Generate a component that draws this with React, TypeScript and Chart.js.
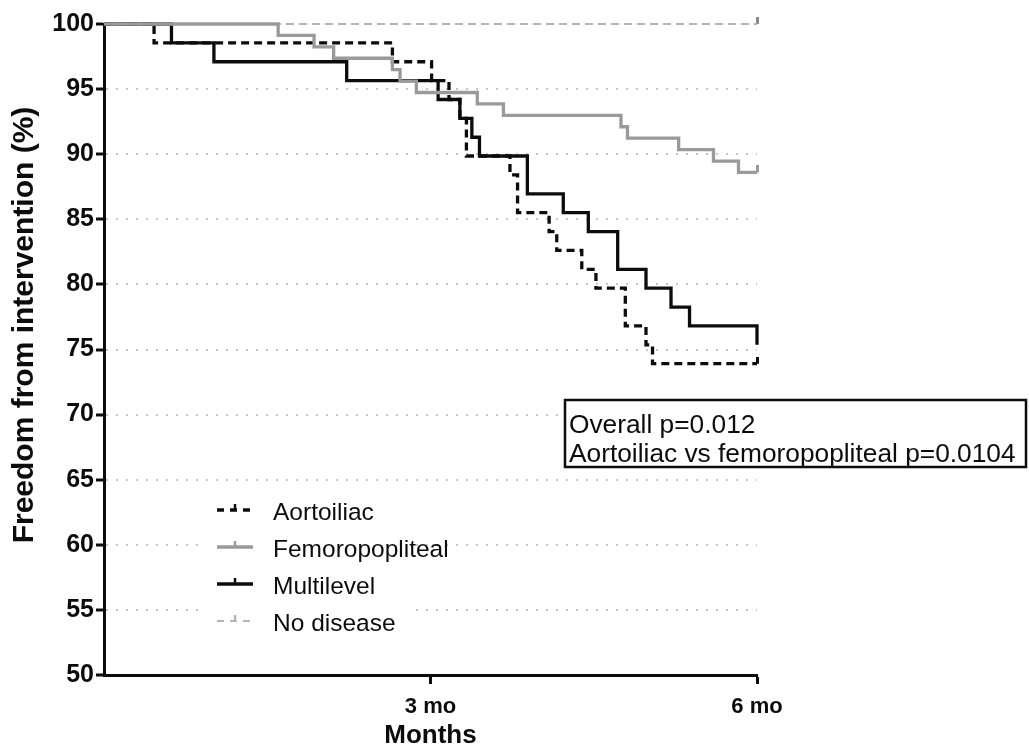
import React, { useEffect, useRef } from "react";
import { Chart, registerables } from "chart.js";

Chart.register(...registerables);

// ---- data ----
const seriesNames = ["Aortoiliac", "Femoropopliteal", "Multilevel", "No disease"];

const aortoTimes = [0, 0.46, 2.65, 3.01, 3.17, 3.27, 3.33, 3.73, 3.8, 4.09, 4.16, 4.39, 4.52, 4.79, 4.98, 5.04, 6];
const aortoValues = [100, 98.55, 97.1, 95.65, 94.2, 92.75, 89.86, 88.41, 85.51, 84.06, 82.61, 81.16, 79.71, 76.81, 75.36, 73.91, 73.91];

const femTimes = [0, 1.6, 1.93, 2.11, 2.65, 2.72, 2.87, 3.43, 3.67, 4.75, 4.81, 5.28, 5.6, 5.83, 6];
const femValues = [100, 99.12, 98.25, 97.37, 96.49, 95.61, 94.74, 93.86, 92.98, 92.11, 91.23, 90.35, 89.47, 88.6, 88.6];

const multiTimes = [0, 0.62, 1.01, 2.23, 3.07, 3.27, 3.38, 3.45, 3.89, 4.22, 4.45, 4.72, 4.98, 5.21, 5.38, 6, 6];
const multiValues = [100, 98.55, 97.1, 95.65, 94.2, 92.75, 91.3, 89.86, 86.96, 85.51, 84.06, 81.16, 79.71, 78.26, 76.81, 76.81, 75.36];

const noneTimes = [0, 6];
const noneValues = [100, 100];

// censoring times (tick marks)
const aortoCensor = [6];
const femCensor = [6];
const multiCensor: number[] = [];
const noneCensor = [6];

const yTickValues = [50, 55, 60, 65, 70, 75, 80, 85, 90, 95, 100];
const xTickValues = [3, 6];
const xTickLabels = ["3 mo", "6 mo"];

const xTitle = "Months";
const yTitle = "Freedom from intervention (%)";
const annotationLines = ["Overall p=0.012", "Aortoiliac vs femoropopliteal p=0.0104"];

// ---- styles ----
const BLACK = "#0c0c0c";
const GRAY = "#9a9a9a";
const LIGHT = "#b4b4b4";
const FONT = "'Liberation Sans', Arial, Helvetica, sans-serif";

function stepValue(times: number[], values: number[], t: number) {
  let v = values[0];
  for (let i = 0; i < times.length; i++) if (times[i] <= t) v = values[i];
  return v;
}

function makeTick(color: string) {
  const c = document.createElement("canvas");
  c.width = 3;
  c.height = 14;
  const g = c.getContext("2d")!;
  g.fillStyle = color;
  g.fillRect(0, 0, 3, 7);
  return c;
}

export default function App() {
  const ref = useRef<HTMLCanvasElement | null>(null);

  useEffect(() => {
    if (!ref.current) return;
    const series = [
      { name: seriesNames[0], times: aortoTimes, values: aortoValues, censor: aortoCensor, color: BLACK, width: 3.3, dash: [8, 5] },
      { name: seriesNames[1], times: femTimes, values: femValues, censor: femCensor, color: GRAY, width: 3.3, dash: [] as number[] },
      { name: seriesNames[2], times: multiTimes, values: multiValues, censor: multiCensor, color: BLACK, width: 3.3, dash: [] as number[] },
      { name: seriesNames[3], times: noneTimes, values: noneValues, censor: noneCensor, color: LIGHT, width: 2.2, dash: [8, 5] },
    ];
    const drawOrder = [2, 0, 1, 3];

    const datasets: any[] = [];
    series.forEach((s, i) => {
      datasets.push({
        label: s.name,
        data: s.times.map((t, k) => ({ x: t, y: s.values[k] })),
        stepped: "before",
        borderColor: s.color,
        borderWidth: s.width,
        borderDash: s.dash,
        pointRadius: 0,
        fill: false,
        clip: 8,
        order: drawOrder[i],
      });
      datasets.push({
        label: s.name + " censored",
        data: s.censor.map((t) => ({ x: t, y: stepValue(s.times, s.values, t) })),
        showLine: false,
        pointStyle: makeTick(s.color === LIGHT ? "#8a8a8a" : s.color),
        pointRadius: 5,
        clip: 10,
        order: drawOrder[i],
      });
    });

    const decor = {
      id: "kmDecor",
      afterDatasetsDraw(chart: any) {
        const ctx = chart.ctx;
        ctx.save();
        // y axis title
        ctx.save();
        ctx.translate(25, 325);
        ctx.rotate(-Math.PI / 2);
        ctx.font = `bold 30px ${FONT}`;
        ctx.fillStyle = BLACK;
        ctx.textAlign = "center";
        ctx.textBaseline = "middle";
        ctx.fillText(yTitle, 0, 0);
        ctx.restore();

        // legend
        ctx.fillStyle = "#ffffff";
        ctx.fillRect(205, 490, 208, 150);
        series.forEach((s, i) => {
          const base = 520 + i * 37;
          const ly = base - 10;
          ctx.beginPath();
          ctx.strokeStyle = s.color;
          ctx.lineWidth = s.width;
          ctx.setLineDash(s.dash.length ? [7, 6] : []);
          ctx.moveTo(217, ly);
          ctx.lineTo(253, ly);
          ctx.stroke();
          ctx.setLineDash([]);
          ctx.beginPath();
          ctx.lineWidth = 2.5;
          ctx.moveTo(235, ly);
          ctx.lineTo(235, ly - 6);
          ctx.stroke();
          ctx.font = `24.5px ${FONT}`;
          ctx.fillStyle = BLACK;
          ctx.textAlign = "left";
          ctx.textBaseline = "alphabetic";
          ctx.fillText(s.name, 273, base);
        });

        // annotation box
        ctx.fillStyle = "#ffffff";
        ctx.fillRect(558, 400, 470, 68);
        ctx.strokeStyle = BLACK;
        ctx.lineWidth = 2.5;
        ctx.strokeRect(565, 400, 461, 67);
        ctx.font = `26.3px ${FONT}`;
        ctx.fillStyle = BLACK;
        ctx.textAlign = "left";
        ctx.textBaseline = "alphabetic";
        annotationLines.forEach((t, i) => ctx.fillText(t, 569, 433 + i * 28.5));
        ctx.restore();
      },
    };

    const chart = new Chart(ref.current, {
      type: "line",
      data: { datasets },
      plugins: [decor],
      options: {
        animation: false,
        responsive: false,
        maintainAspectRatio: false,
        layout: { padding: { left: 0, top: 24, right: 272, bottom: 0 } },
        plugins: { legend: { display: false }, tooltip: { enabled: false } },
        scales: {
          x: {
            type: "linear",
            min: 0,
            max: 6,
            afterBuildTicks: (s: any) => {
              s.ticks = xTickValues.map((v) => ({ value: v }));
            },
            afterFit: (s: any) => {
              s.height = 76;
            },
            ticks: {
              autoSkip: false,
              maxRotation: 0,
              padding: 10,
              color: BLACK,
              font: { family: FONT, size: 22, weight: "bold" },
              callback: (v: any) => xTickLabels[xTickValues.indexOf(Number(v))] ?? "",
            },
            grid: { drawOnChartArea: false, tickLength: 9, tickWidth: 3, tickColor: BLACK },
            border: { color: BLACK, width: 3 },
            title: {
              display: true,
              text: xTitle,
              color: BLACK,
              font: { family: FONT, size: 26, weight: "bold" },
              padding: { top: 0, bottom: 0 },
            },
          },
          y: {
            type: "linear",
            min: 50,
            max: 100,
            afterBuildTicks: (s: any) => {
              s.ticks = yTickValues.map((v) => ({ value: v }));
            },
            afterFit: (s: any) => {
              s.width = 104;
            },
            ticks: {
              padding: 2,
              color: BLACK,
              font: { family: FONT, size: 25, weight: "bold" },
            },
            grid: {
              color: (c: any) =>
                c.tick && (c.tick.value === 50 || c.tick.value === 100) ? "rgba(0,0,0,0)" : "#c6c6c6",
              lineWidth: 2,
              tickLength: 8,
              tickWidth: 3,
              tickColor: BLACK,
            },
            border: { color: BLACK, width: 3, dash: [2, 8] },
          },
        },
      } as any,
    });
    return () => chart.destroy();
  }, []);

  return (
    <div style={{ position: "absolute", left: 0, top: 0, width: 1029, height: 751, background: "#fff" }}>
      <canvas ref={ref} width={1029} height={751} style={{ display: "block" }} />
    </div>
  );
}
